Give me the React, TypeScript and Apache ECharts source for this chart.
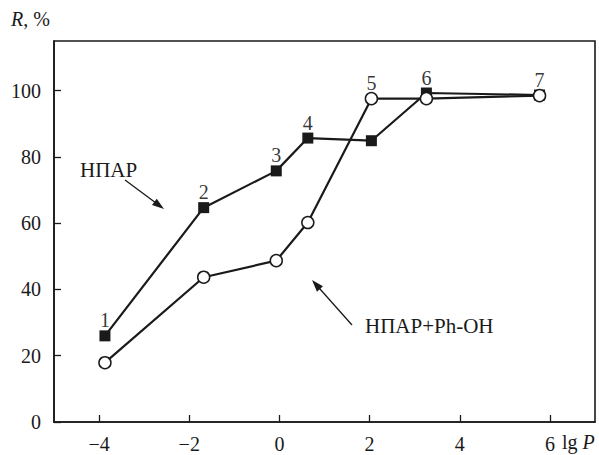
import React, { useEffect, useRef } from "react";
import * as echarts from "echarts";

// lg P positions of the seven samples
const lgP = [-3.87, -1.68, -0.07, 0.63, 2.04, 3.26, 5.77];
// R, % for НПАР (filled squares)
const rSurfactant = [26.0, 64.7, 75.8, 85.7, 84.9, 99.3, 98.7];
// R, % for НПАР+Ph-OH (open circles)
const rSurfactantPhenol = [17.9, 43.7, 48.7, 60.2, 97.6, 97.6, 98.5];
const pointLabels = ["1", "2", "3", "4", "5", "6", "7"];
const xTicks = [-4, -2, 0, 2, 4, 6];
const yTicks = [0, 20, 40, 60, 80, 100];

const FONT = "Liberation Serif";
const INK = "#1a1a1a";
const FS = 20;

function arrow(x1: number, y1: number, x2: number, y2: number) {
  const len = 12;
  const half = 4;
  const dx = x2 - x1;
  const dy = y2 - y1;
  const d = Math.sqrt(dx * dx + dy * dy);
  const ux = dx / d;
  const uy = dy / d;
  const bx = x2 - ux * len;
  const by = y2 - uy * len;
  return [
    {
      type: "line",
      shape: { x1, y1, x2: bx + ux * 2, y2: by + uy * 2 },
      style: { stroke: INK, lineWidth: 1.3 },
      silent: true,
    },
    {
      type: "polygon",
      shape: {
        points: [
          [x2, y2],
          [bx - uy * half, by + ux * half],
          [bx + uy * half, by - ux * half],
        ],
      },
      style: { fill: INK },
      silent: true,
    },
  ];
}

export default function App() {
  const ref = useRef<HTMLDivElement>(null);

  useEffect(() => {
    if (!ref.current) return;
    const chart = echarts.init(ref.current, null, { renderer: "svg" });
    const labelData = lgP.map((x, i) => [
      x,
      Math.max(rSurfactant[i], rSurfactantPhenol[i]),
    ]);

    chart.setOption({
      animation: false,
      backgroundColor: "#ffffff",
      textStyle: { fontFamily: FONT },
      grid: {
        left: 54,
        right: 4,
        top: 41,
        bottom: 33,
        show: true,
        borderColor: INK,
        borderWidth: 1.6,
        backgroundColor: "transparent",
      },
      xAxis: {
        type: "value",
        min: -5,
        max: 7,
        axisLine: { show: true, onZero: false, lineStyle: { color: INK, width: 1.6 } },
        axisTick: {
          show: true,
          inside: true,
          length: 7,
          customValues: xTicks,
          lineStyle: { color: INK, width: 1.3 },
        },
        axisLabel: {
          customValues: xTicks,
          margin: 12,
          fontFamily: FONT,
          fontSize: FS,
          color: INK,
          formatter: (v: number) => (v < 0 ? "\u2212" + Math.abs(v) : String(v)),
        },
        splitLine: { show: false },
      },
      yAxis: {
        type: "value",
        min: 0,
        max: 115,
        axisLine: { show: true, onZero: false, lineStyle: { color: INK, width: 1.6 } },
        axisTick: {
          show: true,
          inside: true,
          length: 7,
          customValues: yTicks,
          lineStyle: { color: INK, width: 1.3 },
        },
        axisLabel: {
          customValues: yTicks,
          margin: 13,
          fontFamily: FONT,
          fontSize: FS,
          color: INK,
        },
        splitLine: { show: false },
      },
      series: [
        {
          name: "НПАР",
          type: "line",
          data: lgP.map((x, i) => [x, rSurfactant[i]]),
          symbol: "rect",
          symbolSize: 11,
          lineStyle: { color: INK, width: 2.2 },
          itemStyle: { color: INK, borderColor: INK, borderWidth: 0 },
          z: 2,
        },
        {
          name: "НПАР+Ph-OH",
          type: "line",
          data: lgP.map((x, i) => [x, rSurfactantPhenol[i]]),
          symbol: "circle",
          symbolSize: 12,
          showAllSymbol: true,
          lineStyle: { color: INK, width: 2.2 },
          itemStyle: { color: "#ffffff", borderColor: INK, borderWidth: 1.5 },
          z: 3,
        },
        {
          name: "labels",
          type: "scatter",
          data: labelData,
          symbol: "rect",
          symbolSize: 11,
          itemStyle: { color: "rgba(0,0,0,0)" },
          silent: true,
          label: {
            show: true,
            position: "top",
            distance: 0,
            fontFamily: FONT,
            fontSize: FS,
            color: "#000",
            formatter: (p: any) => pointLabels[p.dataIndex],
          },
          z: 4,
        },
      ],
      graphic: [
        {
          type: "text",
          left: 11,
          top: 9,
          style: {
            text: "{i|R}, %",
            rich: {
              i: { fontFamily: FONT, fontStyle: "italic", fontSize: FS, fill: INK },
            },
            fontFamily: FONT,
            fontSize: FS,
            fill: INK,
          },
        },
        {
          type: "text",
          x: 562,
          y: 442,
          style: {
            text: "lg {i|P}",
            rich: {
              i: { fontFamily: FONT, fontStyle: "italic", fontSize: FS, fill: INK },
            },
            fontFamily: FONT,
            fontSize: FS,
            fill: INK,
            verticalAlign: "middle",
          },
        },
        {
          type: "text",
          x: 80,
          y: 170,
          style: {
            text: "НПАР",
            fontFamily: FONT,
            fontSize: 21,
            fill: INK,
            verticalAlign: "middle",
          },
        },
        {
          type: "text",
          x: 365,
          y: 326,
          style: {
            text: "НПАР+Ph-OH",
            fontFamily: FONT,
            fontSize: 21,
            fill: INK,
            verticalAlign: "middle",
          },
        },
        ...arrow(125, 180, 164, 209),
        ...arrow(352, 325, 312, 280),
      ],
    });

    return () => chart.dispose();
  }, []);

  return (
    <div
      ref={ref}
      style={{ position: "fixed", left: 0, top: 0, width: 599, height: 455 }}
    />
  );
}
